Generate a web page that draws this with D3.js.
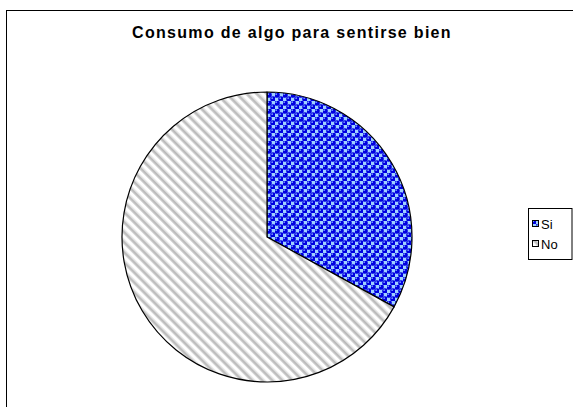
<!DOCTYPE html>
<html><head><meta charset="utf-8">
<script src="https://cdn.jsdelivr.net/npm/d3@7"></script>
<style>body{margin:0;background:#fff}svg{display:block}</style>
</head><body>
<script>
const categories = ["Si", "No"];
const values = [33, 67];
const title = "Consumo de algo para sentirse bien";

const W = 573, H = 407;
const svg = d3.select("body").append("svg").attr("width", W).attr("height", H);
const defs = svg.append("defs");

// Blue balls pattern
const pb = defs.append("pattern").attr("id", "balls").attr("patternUnits", "userSpaceOnUse")
  .attr("width", 8).attr("height", 8);
pb.append("rect").attr("width", 8).attr("height", 8).attr("fill", "#1a1aff");
pb.append("rect").attr("x", 0).attr("y", 4).attr("width", 4).attr("height", 4).attr("fill", "#9fd0ff");
pb.append("rect").attr("x", 4).attr("y", 0).attr("width", 4).attr("height", 4).attr("fill", "#9fd0ff");
[[2, 2], [6, 6]].forEach(([cx, cy]) => {
  pb.append("circle").attr("cx", cx).attr("cy", cy).attr("r", 2.8).attr("fill", "#0000e0");
  pb.append("circle").attr("cx", cx - 0.8).attr("cy", cy - 0.8).attr("r", 0.9).attr("fill", "#6f8fff");
});

// Diagonal stripes pattern
const P = 7.1;
const ps = defs.append("pattern").attr("id", "stripes").attr("patternUnits", "userSpaceOnUse")
  .attr("width", P).attr("height", P).attr("patternTransform", "rotate(-45)");
ps.append("rect").attr("width", P).attr("height", P).attr("fill", "#ffffff");
ps.append("rect").attr("x", 0).attr("y", 0).attr("width", 1).attr("height", P).attr("fill", "#d6d6d6");
ps.append("rect").attr("x", 1).attr("y", 0).attr("width", 2).attr("height", P).attr("fill", "#b8b8b8");
ps.append("rect").attr("x", 3).attr("y", 0).attr("width", 1).attr("height", P).attr("fill", "#d6d6d6");

const fills = d3.scaleOrdinal().domain(categories).range(["url(#balls)", "url(#stripes)"]);

// Outer frame
svg.append("rect").attr("x", 6.5).attr("y", 10.5).attr("width", 700).attr("height", 500)
  .attr("fill", "none").attr("stroke", "#000").attr("stroke-width", 1);

svg.append("text").attr("x", 292).attr("y", 38).attr("text-anchor", "middle")
  .attr("font-family", "Liberation Sans, Arial, sans-serif").attr("font-weight", "bold")
  .attr("font-size", 16).attr("letter-spacing", 1.3).text(title);

const cx = 267, cy = 237, r = 145;
const pie = d3.pie().sort(null).value(d => d.v);
const arc = d3.arc().innerRadius(0).outerRadius(r);
const data = categories.map((c, i) => ({ c, v: values[i] }));
svg.append("g").attr("transform", `translate(${cx},${cy})`)
  .selectAll("path").data(pie(data)).join("path")
  .attr("d", arc).attr("fill", d => fills(d.data.c))
  .attr("stroke", "#000").attr("stroke-width", 1.2).attr("stroke-linejoin", "round");

// Legend
const lg = svg.append("g");
lg.append("rect").attr("x", 528.5).attr("y", 208.5).attr("width", 43.5).attr("height", 51)
  .attr("fill", "#fff").attr("stroke", "#000").attr("stroke-width", 1);
categories.forEach((c, i) => {
  const y = 224 + i * 20;
  lg.append("rect").attr("x", 532.5).attr("y", y - 3.5).attr("width", 6).attr("height", 6)
    .attr("fill", fills(c)).attr("stroke", "#000").attr("stroke-width", 1);
  lg.append("text").attr("x", 541).attr("y", y + 4.5)
    .attr("font-family", "Liberation Sans, Arial, sans-serif").attr("font-size", 13).text(c);
});
</script>
</body></html>
